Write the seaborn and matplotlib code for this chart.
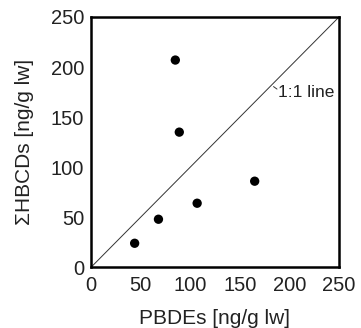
import matplotlib
matplotlib.use("Agg")
import matplotlib.pyplot as plt
import seaborn as sns
import pandas as pd

pbdes = [44, 68, 107, 165, 89, 85]
hbcds = [24, 48, 64, 86, 135, 207]
ticks = [0, 50, 100, 150, 200, 250]

sns.set_theme(style="white")
plt.rcParams['font.family'] = ['Liberation Sans', 'DejaVu Sans']

df = pd.DataFrame({"PBDEs": pbdes, "HBCDs": hbcds})

fig = plt.figure(figsize=(3.61, 3.28), dpi=100)
ax = fig.add_axes([91/361, 1 - 267.3/328, 248/361, 250.3/328])

ax.plot([0, 250], [0, 250], color="#333333", lw=0.7, zorder=1)
sns.scatterplot(data=df, x="PBDEs", y="HBCDs", color="black", s=45,
                edgecolor="none", ax=ax, zorder=3)

ax.set_xlim(0, 250)
ax.set_ylim(0, 250)
ax.set_xticks(ticks)
ax.set_yticks(ticks)
ax.set_xticklabels([str(t) for t in ticks])
ax.set_yticklabels([str(t) for t in ticks])
ax.tick_params(axis="both", direction="out", length=4, width=1.2,
               labelsize=14.5, colors="black", pad=1, labelcolor="#222222")
ax.tick_params(axis="x", pad=2)

for sp in ax.spines.values():
    sp.set_linewidth(1.8)
    sp.set_color("black")

ax.set_xlabel("PBDEs [ng/g lw]", fontsize=15, color="#222222", labelpad=10.5)
ax.set_ylabel("ΣHBCDs [ng/g lw]", fontsize=15, color="#222222", labelpad=12)

ax.plot([184, 187.5], [180.5, 178], color="#333333", lw=0.7)
ax.text(189, 175, "1:1 line", fontsize=12.5, color="#222222", va="center", ha="left")

fig.savefig("out.png", dpi=100)
